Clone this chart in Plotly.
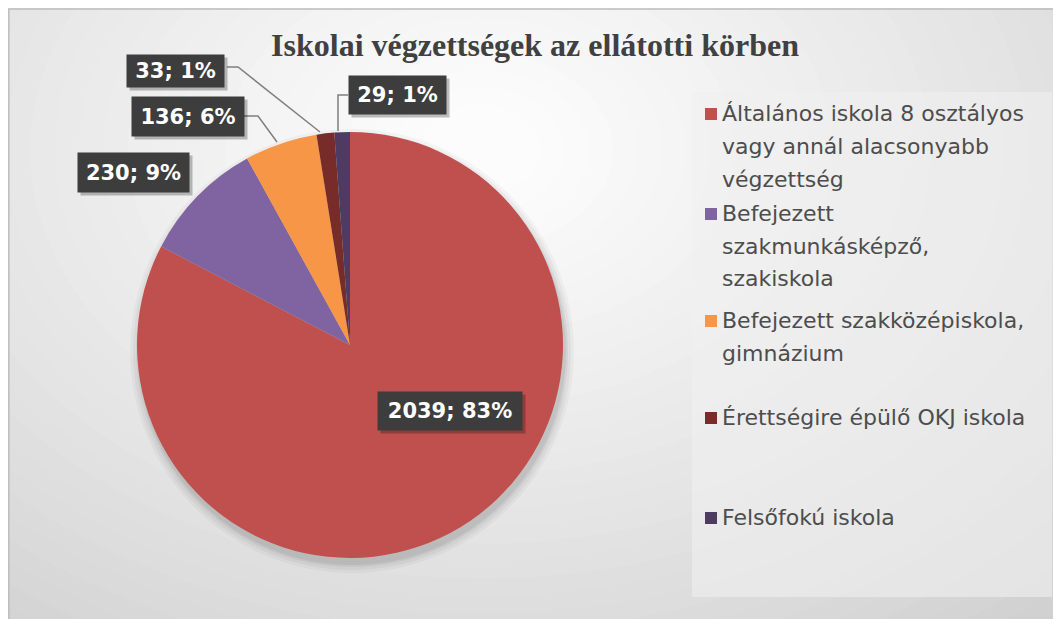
import plotly.graph_objects as go

# page offset (browser default body margin)
OFF = 8
W, H = 1061 - OFF, 619 - OFF

categories = [
    "Általános iskola 8 osztályos vagy annál alacsonyabb végzettség",
    "Befejezett szakmunkásképző, szakiskola",
    "Befejezett szakközépiskola, gimnázium",
    "Érettségire épülő OKJ iskola",
    "Felsőfokú iskola",
]
legend_lines = [
    ["Általános iskola 8 osztályos", "vagy annál alacsonyabb", "végzettség"],
    ["Befejezett", "szakmunkásképző,", "szakiskola"],
    ["Befejezett szakközépiskola,", "gimnázium"],
    ["Érettségire épülő OKJ iskola"],
    ["Felsőfokú iskola"],
]
values = [2039, 230, 136, 33, 29]
colors = ["#c0504d", "#8064a2", "#f79646", "#772c2a", "#4d3b62"]
title = "Iskolai végzettségek az ellátotti körben"

total = sum(values)
label_texts = [f"{v}; {round(100 * v / total)}%" for v in values]


def px(x):
    return (x - OFF) / W


def py(y):
    return 1 - (y - OFF) / H


shapes = []
# chart background (approximate radial gradient)
shapes.append(dict(type="rect", xref="paper", yref="paper", x0=-0.1, x1=1.1, y0=-0.1, y1=1.1,
                   fillcolor="#c4c4c4", line=dict(width=0), layer="below"))
steps = 40
cx, cy = 480, 150
for i in range(steps):
    t = i / (steps - 1)
    rx = 950 * (1 - t) + 60
    ry = 680 * (1 - t) + 45
    g = int(round(0xc4 + (0xfc - 0xc4) * (t ** 0.8)))
    shapes.append(dict(type="circle", xref="paper", yref="paper",
                       x0=px(cx - rx), x1=px(cx + rx), y0=py(cy + ry), y1=py(cy - ry),
                       fillcolor=f"rgb({g},{g},{g})", line=dict(width=0), layer="below"))
# frame
shapes.append(dict(type="rect", xref="paper", yref="paper", x0=0.0008, x1=1.01, y0=-0.01, y1=0.9985,
                   fillcolor="rgba(0,0,0,0)", line=dict(color="#bdbdbd", width=1.5), layer="below"))
# pie soft shadow
for r, op in [(222, 0.03), (219, 0.04), (216, 0.05), (214, 0.06)]:
    shapes.append(dict(type="circle", xref="paper", yref="paper",
                       x0=px(352 - r), x1=px(352 + r), y0=py(351 + r), y1=py(351 - r),
                       fillcolor=f"rgba(0,0,0,{op})", line=dict(width=0), layer="below"))
# legend box
shapes.append(dict(type="rect", xref="paper", yref="paper", x0=px(692), x1=px(1052), y0=py(597), y1=py(92),
                   fillcolor="rgba(240,240,240,0.6)", line=dict(width=0), layer="below"))

# leader lines
leaders = [
    [(227, 67), (238, 67), (320, 132)],
    [(348, 95), (338, 95), (338, 131)],
    [(244, 116), (258, 116), (277, 142)],
]
for pts in leaders:
    path = "M " + " L ".join(f"{px(x)},{py(y)}" for x, y in pts)
    shapes.append(dict(type="path", xref="paper", yref="paper", path=path,
                       line=dict(color="#7f7f7f", width=1.5), layer="above"))

annotations = []
# data label boxes: (center x, center y, width, height) in pixels
label_boxes = [
    (450, 411, 144, 38),
    (133, 172, 111, 39),
    (188, 117, 112, 39),
    (175, 71, 97, 32),
    (397, 95, 97, 38),
]
for txt, (bx, by, bw, bh) in zip(label_texts, label_boxes):
    annotations.append(dict(xref="paper", yref="paper", x=px(bx), y=py(by), xanchor="center", yanchor="middle",
                            text="", showarrow=False, width=bw, height=bh, borderpad=0,
                            bgcolor="rgba(0,0,0,0.25)", xshift=3, yshift=-3))
    annotations.append(dict(xref="paper", yref="paper", x=px(bx), y=py(by), xanchor="center", yanchor="middle",
                            text=f"<b>{txt}</b>", showarrow=False, width=bw, height=bh, borderpad=0,
                            bgcolor="#3d3d3d", font=dict(family="DejaVu Sans", size=21, color="white")))

# custom legend
entry_tops = [113, 213, 320, 417, 517]
for lines, col, y0 in zip(legend_lines, colors, entry_tops):
    shapes.append(dict(type="rect", xref="paper", yref="paper", x0=px(705), x1=px(717),
                       y0=py(y0 + 7), y1=py(y0 - 5), fillcolor=col, line=dict(width=0), layer="above"))
    for i, ln in enumerate(lines):
        annotations.append(dict(xref="paper", yref="paper", x=px(720), y=py(y0 + 33 * i),
                                xanchor="left", yanchor="middle", text=ln, showarrow=False,
                                font=dict(family="DejaVu Sans", size=22, color="#4d4d4d")))

fig = go.Figure(go.Pie(
    labels=categories,
    values=values,
    sort=False,
    direction="clockwise",
    rotation=0,
    marker=dict(colors=colors, line=dict(width=0)),
    textinfo="none",
    hoverinfo="label+value+percent",
    showlegend=False,
    domain=dict(x=[px(350 - 213), px(350 + 213)], y=[py(345 + 213), py(345 - 213)]),
))

fig.update_layout(
    width=W, height=H,
    margin=dict(l=0, r=0, t=0, b=0),
    paper_bgcolor="white",
    title=dict(text=f"<b>{title}</b>", x=px(535), y=py(45), xanchor="center", yanchor="middle",
               font=dict(family="Liberation Serif", size=32, color="#404040")),
    shapes=shapes,
    annotations=annotations,
)

fig.write_html("out.html")
